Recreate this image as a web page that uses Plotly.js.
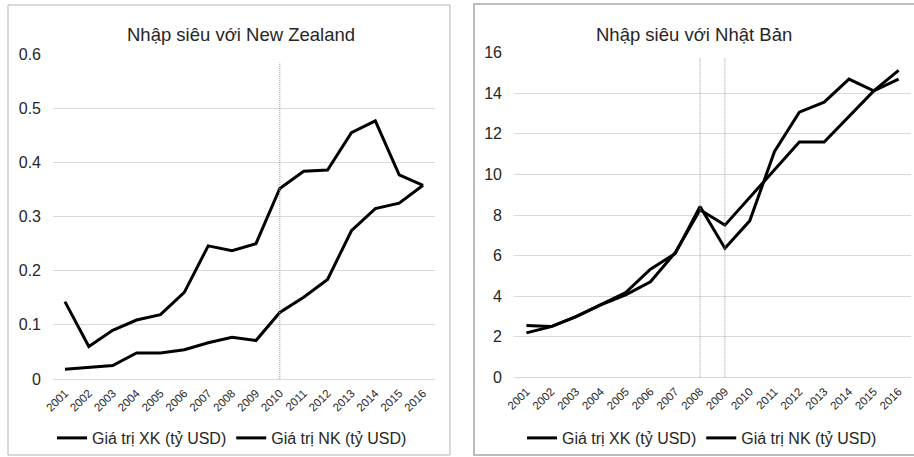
<!DOCTYPE html>
<html>
<head>
<meta charset="utf-8">
<script src="https://cdn.plot.ly/plotly-3.0.1.min.js"></script>
<style>
  html, body { margin: 0; padding: 0; background: #ffffff; }
  #chart { width: 914px; height: 457px; }
</style>
</head>
<body>
<div id="chart"></div>
<script>
// ---- data ----
const years = ['2001','2002','2003','2004','2005','2006','2007','2008','2009','2010','2011','2012','2013','2014','2015','2016'];
const seriesNames = ['Giá trị XK (tỷ USD)', 'Giá trị NK (tỷ USD)'];

const titleNZ = 'Nhập siêu với New Zealand';
const nzXK = [0.018, 0.021, 0.025, 0.048, 0.048, 0.054, 0.067, 0.077, 0.071, 0.123, 0.151, 0.184, 0.274, 0.315, 0.325, 0.358];
const nzNK = [0.143, 0.060, 0.090, 0.109, 0.119, 0.160, 0.246, 0.237, 0.250, 0.352, 0.384, 0.386, 0.455, 0.477, 0.377, 0.358];
const nzMarkYears = ['2010'];

const titleJP = 'Nhập siêu với Nhật Bản';
const jpXK = [2.55, 2.50, 2.99, 3.57, 4.18, 5.33, 6.10, 8.42, 6.36, 7.71, 11.13, 13.07, 13.56, 14.70, 14.12, 14.70];
const jpNK = [2.19, 2.50, 2.99, 3.57, 4.06, 4.71, 6.15, 8.26, 7.50, 8.86, 10.23, 11.60, 11.60, 12.86, 14.12, 15.13];
const jpMarkYears = ['2008', '2009'];

// ---- layout helpers ----
const W = 914, H = 457;
const px = v => v / W;
const py = v => 1 - v / H;
const FONT = 'Liberation Sans, Arial, sans-serif';
const TXT = '#262626';
const GRID = '#d9d9d9';
const lineStyle = { color: '#000000', width: 3 };

const traces = [
  { x: years, y: nzXK, name: seriesNames[0], type: 'scatter', mode: 'lines', line: lineStyle, xaxis: 'x', yaxis: 'y', legend: 'legend' },
  { x: years, y: nzNK, name: seriesNames[1], type: 'scatter', mode: 'lines', line: lineStyle, xaxis: 'x', yaxis: 'y', legend: 'legend' },
  { x: years, y: jpXK, name: seriesNames[0], type: 'scatter', mode: 'lines', line: lineStyle, xaxis: 'x2', yaxis: 'y2', legend: 'legend2' },
  { x: years, y: jpNK, name: seriesNames[1], type: 'scatter', mode: 'lines', line: lineStyle, xaxis: 'x2', yaxis: 'y2', legend: 'legend2' }
];

const catRange = [-0.5, years.length - 0.5];
const xaxisBase = {
  type: 'category',
  range: catRange,
  autorange: false,
  tickangle: -45,
  tickfont: { family: FONT, size: 11.5, color: TXT },
  showgrid: false,
  showline: true,
  linecolor: GRID,
  linewidth: 1,
  ticks: '',
  ticklabelstandoff: 2,
  zeroline: false,
  fixedrange: true
};
const yaxisBase = {
  showgrid: true,
  gridcolor: GRID,
  gridwidth: 1,
  zeroline: false,
  showline: false,
  ticks: '',
  tickfont: { family: FONT, size: 16, color: TXT },
  ticklabelstandoff: 11,
  fixedrange: true
};

const shapes = [
  // chart frames
  { type: 'rect', xref: 'paper', yref: 'paper', x0: px(8), x1: px(450), y0: py(455), y1: py(5), line: { color: '#b3b3b3', width: 1 } },
  { type: 'rect', xref: 'paper', yref: 'paper', x0: px(474), x1: px(916), y0: py(455), y1: py(4), line: { color: '#a6a6a6', width: 1.5 } }
];
nzMarkYears.forEach(yr => shapes.push({
  type: 'line', xref: 'x', yref: 'y', x0: years.indexOf(yr), x1: years.indexOf(yr), y0: 0, y1: 0.585,
  line: { color: '#999999', width: 1, dash: '1px,1px' }
}));
jpMarkYears.forEach(yr => shapes.push({
  type: 'line', xref: 'x2', yref: 'y2', x0: years.indexOf(yr), x1: years.indexOf(yr), y0: 0, y1: 15.75,
  line: { color: '#999999', width: 1, dash: '1px,1px' }
}));

const legendBase = {
  orientation: 'h',
  xanchor: 'center',
  yanchor: 'middle',
  font: { family: FONT, size: 16, color: TXT },
  bgcolor: 'rgba(0,0,0,0)',
  itemclick: false,
  itemdoubleclick: false,
  itemwidth: 30,
  tracegroupgap: 0
};

const layout = {
  width: W, height: H,
  margin: { l: 0, r: 0, t: 0, b: 0 },
  paper_bgcolor: '#ffffff',
  plot_bgcolor: '#ffffff',
  font: { family: FONT, color: TXT },
  showlegend: true,
  xaxis: Object.assign({}, xaxisBase, { domain: [px(53), px(435)], anchor: 'y' }),
  yaxis: Object.assign({}, yaxisBase, { domain: [py(379), py(54.3)], range: [0, 0.6], dtick: 0.1, tickformat: '.1~f', anchor: 'x' }),
  xaxis2: Object.assign({}, xaxisBase, { domain: [px(514), px(911)], anchor: 'y2' }),
  yaxis2: Object.assign({}, yaxisBase, { domain: [py(377.3), py(52.7)], range: [0, 16], dtick: 2, anchor: 'x2' }),
  legend: Object.assign({}, legendBase, { x: px(232), y: py(438) }),
  legend2: Object.assign({}, legendBase, { x: px(702), y: py(438) }),
  annotations: [
    { text: titleNZ, xref: 'paper', yref: 'paper', x: px(241), y: py(35), xanchor: 'center', yanchor: 'middle', showarrow: false, font: { family: FONT, size: 18.5, color: '#262626' } },
    { text: titleJP, xref: 'paper', yref: 'paper', x: px(694), y: py(35), xanchor: 'center', yanchor: 'middle', showarrow: false, font: { family: FONT, size: 18.5, color: '#262626' } }
  ],
  shapes: shapes
};

Plotly.newPlot('chart', traces, layout, { staticPlot: true, displayModeBar: false });
</script>
</body>
</html>
